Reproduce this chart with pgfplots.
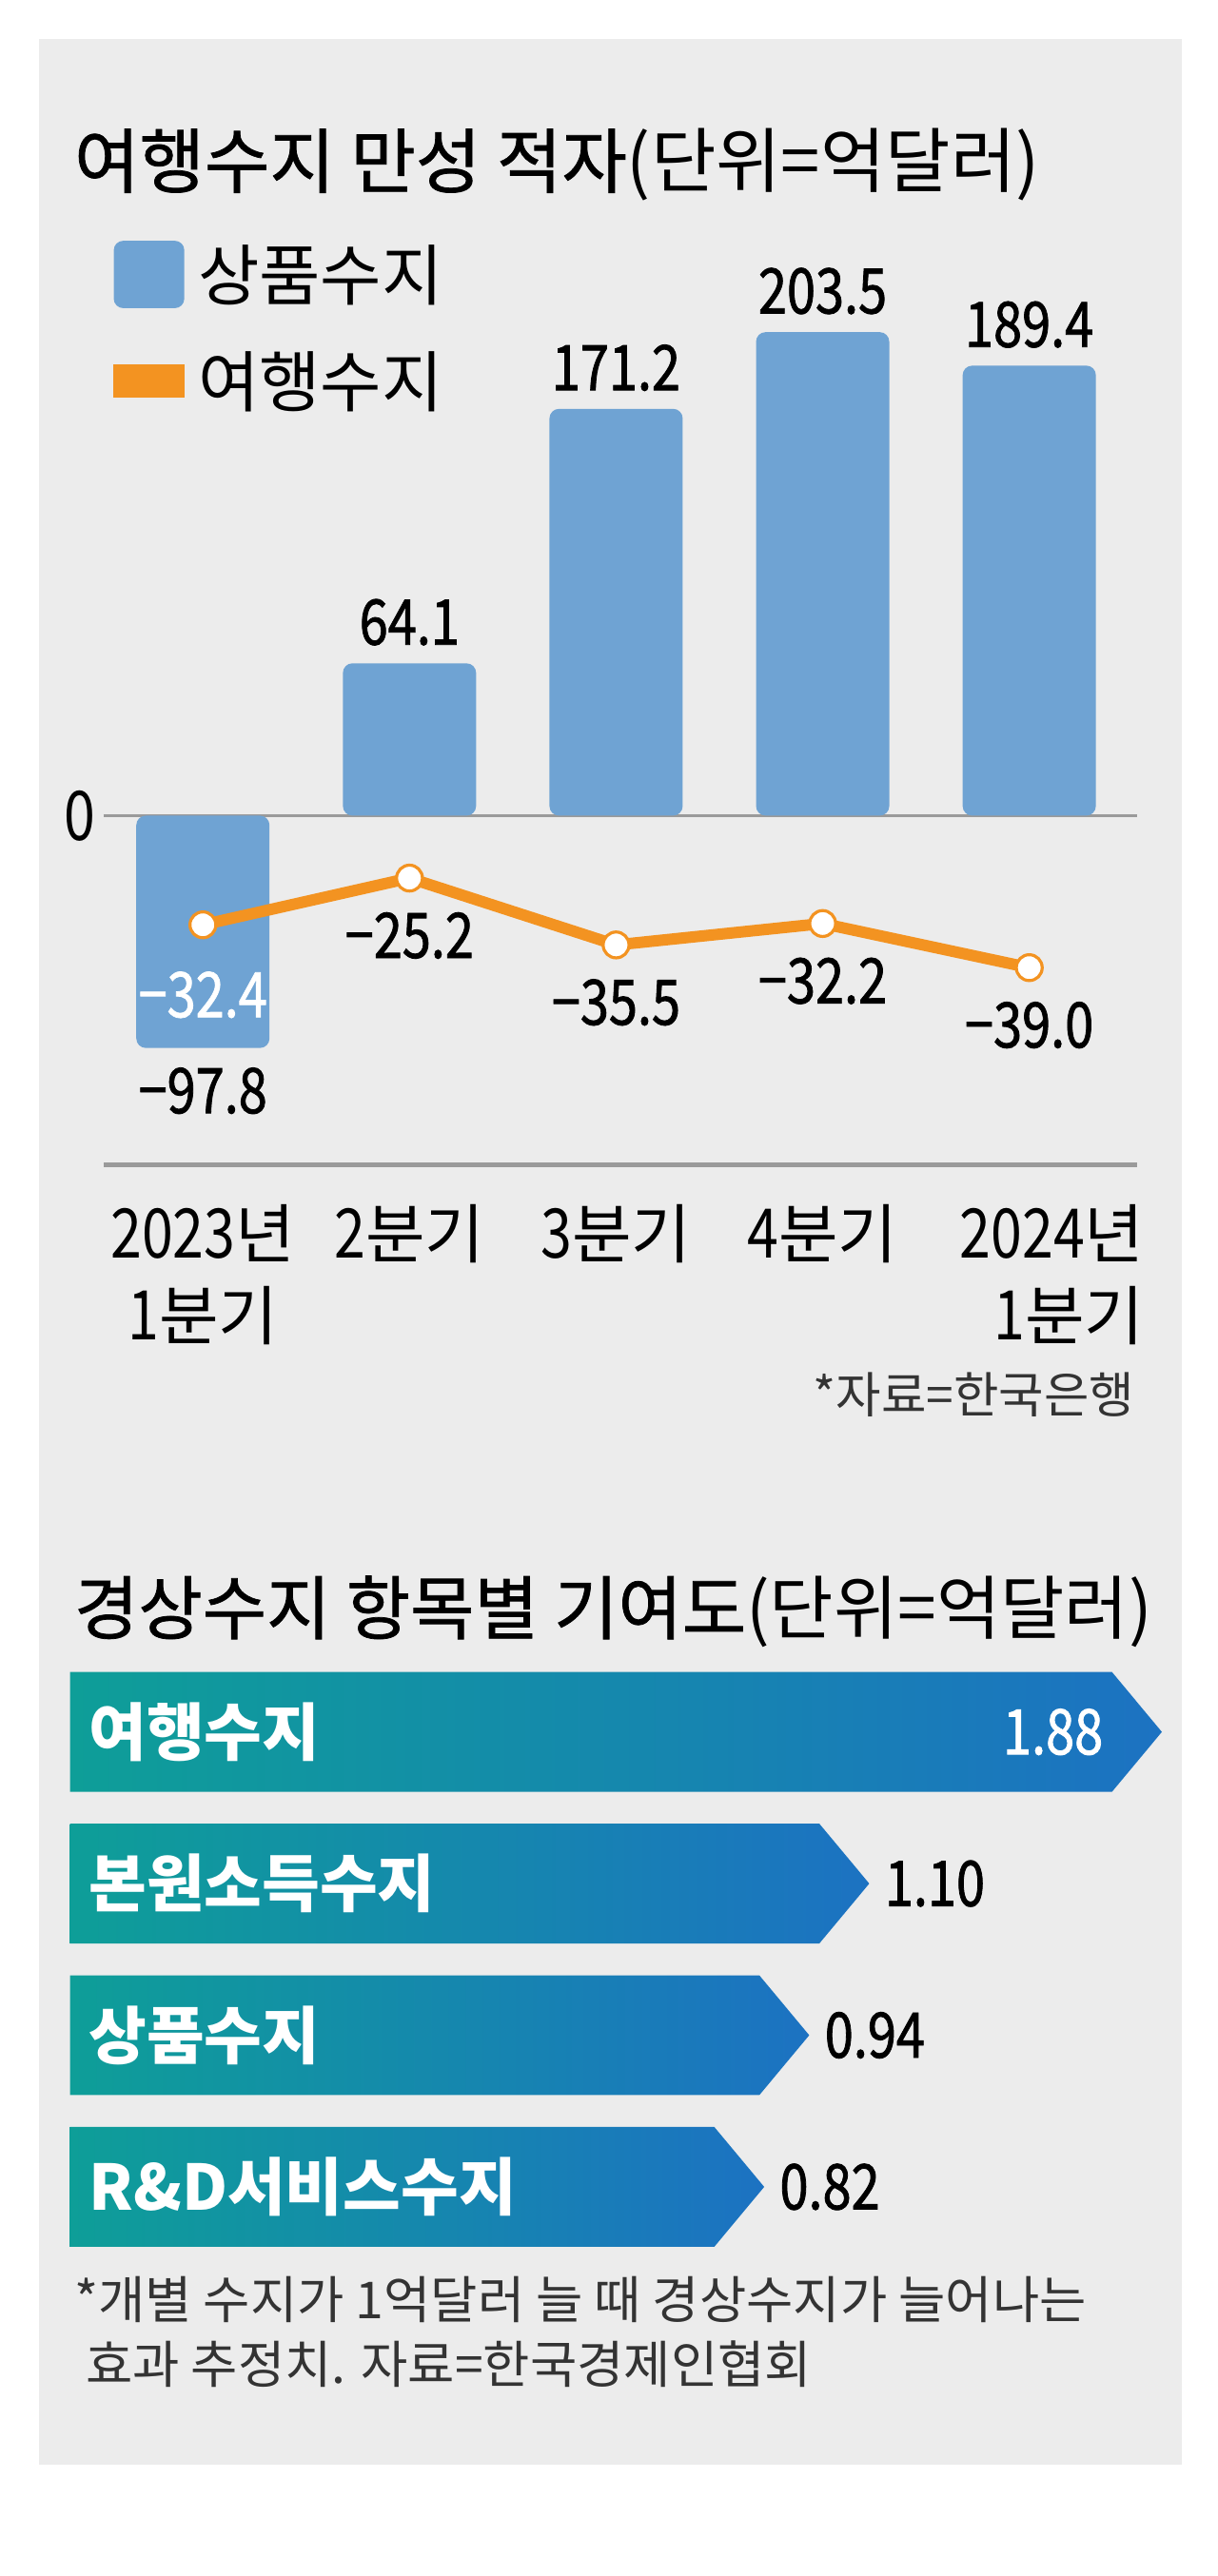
\documentclass[border=0pt]{standalone}
\usepackage{fontspec}
\setmainfont{Noto Sans CJK KR}
\newfontfamily\num[FakeStretch=0.82]{Noto Sans CJK KR}
\newfontfamily\numb[FakeStretch=0.82, FakeBold=1.2]{Noto Sans CJK KR}
\newfontfamily\titlefont[FakeBold=1.0]{Noto Sans CJK KR}
\usepackage{pgfplots}
\pgfplotsset{compat=1.18}

\definecolor{panel}{HTML}{ECECEC}
\definecolor{barblue}{HTML}{6FA3D3}
\definecolor{lineorange}{HTML}{F39321}
\definecolor{linegray}{HTML}{9A9A9A}
\definecolor{arrteal}{HTML}{0E9E98}
\definecolor{arrblue}{HTML}{1C72C2}
\definecolor{textgray}{HTML}{333333}

\newcommand\dg[1]{{\num\fontsize{36pt}{43.2pt}\selectfont #1}}
\newcommand\valfont{\numb\fontsize{33pt}{40pt}\selectfont}

\begin{document}
\begin{tikzpicture}
% background and panel
\fill[white] (0pt,0pt) rectangle (640pt,1354.28pt);
\fill[panel] (20.73pt,58.73pt) rectangle (621pt,1333.55pt);

% top chart title
\node[anchor=west, inner sep=0pt, font=\fontsize{37.2pt}{42pt}\selectfont]
  at (38.87pt,1267.5pt) {{\titlefont 여행수지 만성 적자}(단위=억달러)};

% bars: 상품수지
\begin{axis}[
  at={(54.41pt,741.87pt)}, anchor=south west,
  scale only axis, width=543.3pt, height=445.9pt,
  xmin=-0.481, xmax=4.523, ymin=-147, ymax=210,
  axis x line=bottom, axis y line=left,
  x axis line style={-, draw=linegray, line width=2.6pt},
  y axis line style={draw=none},
  tick style={draw=none}, major tick length=0pt,
  xtick={0,1,2,3},
  xticklabels={{\dg{2023}년\\\dg{1}분기},{\dg{2}분기},{\dg{3}분기},{\dg{4}분기}},
  xticklabel style={anchor=north, inner sep=0pt, yshift=-20.7pt, align=center,
    font=\fontsize{34pt}{43.2pt}\selectfont},
  extra x ticks={4},
  extra x tick labels={{\dg{2024}년\\\dg{1}분기}},
  extra x tick style={xticklabel style={align=right, xshift=12pt}},
  ytick=\empty,
  extra y ticks={0},
  extra y tick labels={{\dg{0}}},
  extra y tick style={grid=major, major grid style={draw=linegray, line width=1.6pt},
    yticklabel style={anchor=east, inner sep=0pt, xshift=-4pt}},
  legend style={at={(0.0095,1.0895)}, anchor=north west, draw=none, fill=none,
    inner sep=0pt, outer sep=0pt, row sep=23pt, column sep=7pt,
    font=\fontsize{35pt}{40pt}\selectfont, nodes={inner sep=0pt, anchor=west}},
  legend cell align=left,
]
\addplot[ybar, bar width=70pt, bar shift=0pt, fill=barblue, draw=none, rounded corners=5pt,
  point meta=explicit symbolic, nodes near coords,
  visualization depends on={rawy \as \rawy},
  every node near coord/.append style={font=\valfont, text=black, anchor=center,
    inner sep=0pt, rounded corners=0pt, yshift={21.6pt-44.1pt*(\rawy<0)}},
  legend image code/.code={\fill[barblue, rounded corners=5pt] (0pt,-17.7pt) rectangle (37.1pt,17.7pt);}]
  coordinates {(0,-97.8)[−97.8] (1,64.1)[64.1] (2,171.2)[171.2] (3,203.5)[203.5] (4,189.4)[189.4]};
\addlegendentry{상품수지}
\addlegendimage{legend image code/.code={\fill[lineorange] (0pt,-8.6pt) rectangle (37.1pt,8.6pt);}}
\addlegendentry{여행수지}
\end{axis}

% line: 여행수지 (own scale)
\begin{axis}[
  at={(54.41pt,741.87pt)}, anchor=south west,
  scale only axis, width=543.3pt, height=445.9pt,
  xmin=-0.481, xmax=4.523, ymin=-69.39, ymax=61.31,
  hide axis, clip=false,
]
\addplot[lineorange, line width=6pt, line join=round, mark=*, mark size=6.8pt,
  mark options={fill=white, draw=lineorange, line width=1.6pt}]
  coordinates {(0,-32.4) (1,-25.2) (2,-35.5) (3,-32.2) (4,-39.0)};
\addplot[draw=none, mark=none, point meta=explicit symbolic, nodes near coords,
  every node near coord/.append style={anchor=center, yshift=-30.2pt, inner sep=0pt,
    font=\valfont, text=black}]
  coordinates {(1,-25.2)[−25.2] (2,-35.5)[−35.5] (3,-32.2)[−32.2] (4,-39.0)[−39.0]};
\addplot[draw=none, mark=none, point meta=explicit symbolic, nodes near coords,
  every node near coord/.append style={anchor=center, yshift=-36.8pt, inner sep=0pt,
    font=\valfont, text=white}]
  coordinates {(0,-32.4)[−32.4]};
\end{axis}

\node[anchor=east, inner sep=0pt, text=textgray, font=\fontsize{25.8pt}{30pt}\selectfont]
  at (596.4pt,621pt) {*자료=한국은행};

% bottom chart title
\node[anchor=west, inner sep=0pt, font=\fontsize{36.6pt}{42pt}\selectfont]
  at (38.87pt,507pt) {{\titlefont 경상수지 항목별 기여도}(단위=억달러)};

% arrows: 경상수지 항목별 기여도
\begin{axis}[
  at={(36.88pt,164.71pt)}, anchor=south west,
  scale only axis, width=597.4pt, height=318.9pt,
  xmin=-1.03, xmax=2.0, ymin=0.5, ymax=4.5,
  axis line style={draw=none}, tick style={draw=none}, major tick length=0pt,
  xtick=\empty, ytick={1,2,3,4},
  yticklabels={R\&D서비스수지,상품수지,본원소득수지,여행수지},
  yticklabel style={anchor=west, inner sep=0pt, xshift=9.6pt, text=white,
    font=\bfseries\fontsize{33pt}{38pt}\selectfont},
  axis on top, clip=false,
]
\addplot[draw=none, left color=arrteal, right color=arrblue]
  coordinates {(-1.03,3.605) (1.747,3.605) (1.88,4) (1.747,4.395) (-1.03,4.395)} --cycle;
\addplot[draw=none, left color=arrteal, right color=arrblue]
  coordinates {(-1.03,2.605) (0.967,2.605) (1.10,3) (0.967,3.395) (-1.03,3.395)} --cycle;
\addplot[draw=none, left color=arrteal, right color=arrblue]
  coordinates {(-1.03,1.605) (0.807,1.605) (0.94,2) (0.807,2.395) (-1.03,2.395)} --cycle;
\addplot[draw=none, left color=arrteal, right color=arrblue]
  coordinates {(-1.03,0.605) (0.687,0.605) (0.82,1) (0.687,1.395) (-1.03,1.395)} --cycle;
\addplot[draw=none, mark=none, point meta=explicit symbolic, nodes near coords,
  every node near coord/.append style={anchor=west, xshift=8pt, inner sep=0pt,
    font=\valfont, text=black}]
  coordinates {(1.10,3)[1.10] (0.94,2)[0.94] (0.82,1)[0.82]};
\addplot[draw=none, mark=none, point meta=explicit symbolic, nodes near coords,
  every node near coord/.append style={anchor=east, xshift=-30.7pt, inner sep=0pt,
    font=\valfont, text=white}]
  coordinates {(1.88,4)[1.88]};
\end{axis}

% footnote
\node[anchor=west, inner sep=0pt, text=textgray, font=\fontsize{26.8pt}{31pt}\selectfont]
  at (38.87pt,145.1pt) {*개별 수지가 1억달러 늘 때 경상수지가 늘어나는};
\node[anchor=west, inner sep=0pt, text=textgray, font=\fontsize{26.8pt}{31pt}\selectfont]
  at (44.91pt,111.42pt) {효과 추정치. 자료=한국경제인협회};

\pgfresetboundingbox
\useasboundingbox (0pt,0pt) rectangle (640pt,1354.28pt);
\end{tikzpicture}
\end{document}
